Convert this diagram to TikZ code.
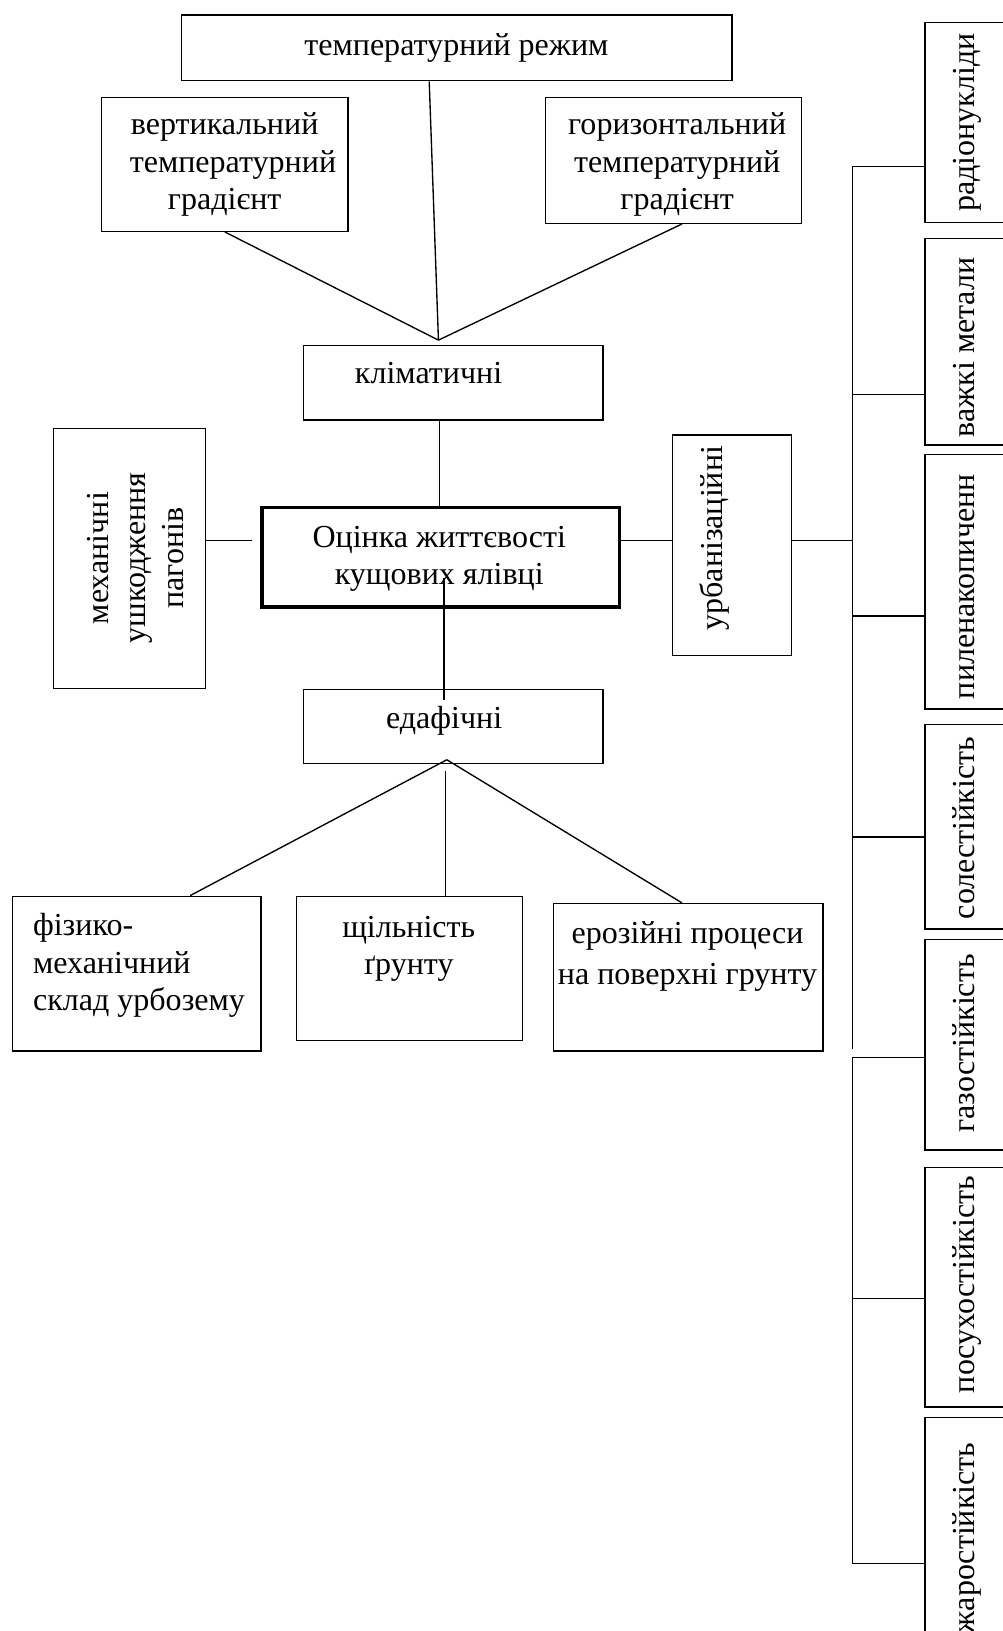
\documentclass[tikz,border=0pt]{standalone}
\usepackage{fontspec}
\setmainfont{Liberation Serif}
\usetikzlibrary{calc}
\newcommand\dfs{\fontsize{30.8}{36}\selectfont}
\begin{document}
\begin{tikzpicture}[x=1pt,y=-1pt,
  box/.style={draw=black,line width=1.3pt,rectangle,inner sep=0pt,anchor=north west},
  txt/.style={font=\dfs,inner sep=0pt,anchor=base,align=center},
  rtxt/.style={txt,rotate=90},
  conn/.style={draw=black,line width=1.3pt},
]
\useasboundingbox (0,0) rectangle (964,1568);
% boxes
\node[box,minimum width=529pt,minimum height=63.2pt] (top) at (174,13.8) {};
\node[box,minimum width=237pt,minimum height=128.7pt] (vert) at (97,93) {};
\node[box,minimum width=246pt,minimum height=121pt] (hor) at (524,93) {};
\node[box,minimum width=288pt,minimum height=71.4pt] (klim) at (291,331.6) {};
\node[box,line width=3.2pt,minimum width=343.7pt,minimum height=96.1pt] (cen) at (250.4,486) {};
\node[box,minimum width=146pt,minimum height=250.5pt] (mech) at (51,411) {};
\node[box,minimum width=114.2pt,minimum height=212.1pt] (urb) at (645.8,417.4) {};
\node[box,minimum width=288pt,minimum height=70.9pt] (edaf) at (291,662.5) {};
\node[box,minimum width=238.8pt,minimum height=148.8pt] (phys) at (11.6,861) {};
\node[box,minimum width=217.1pt,minimum height=138.5pt] (dens) at (284.7,861) {};
\node[box,minimum width=259.3pt,minimum height=141.8pt] (eros) at (531.4,868) {};
\node[box,minimum width=200pt,minimum height=192.2pt] (rad) at (888.5,20.8) {};
\node[box,minimum width=200pt,minimum height=198.5pt] (heavy) at (888.5,228.7) {};
\node[box,minimum width=200pt,minimum height=244.7pt] (dust) at (888.5,436.3) {};
\node[box,minimum width=200pt,minimum height=196.6pt] (salt) at (888.5,696) {};
\node[box,minimum width=200pt,minimum height=202.7pt] (gas) at (888.5,902.3) {};
\node[box,minimum width=200pt,minimum height=230.2pt] (drought) at (888.5,1121.8) {};
\node[box,minimum width=200pt,minimum height=300pt] (heat) at (888.5,1362.2) {};
% texts (multi-line nodes are placed at the baseline of their last line)
\node[txt] (ttop) at (438.8,52.9) {температурний режим};
\node[txt] (tvert) at (216,201.5) {вертикальний\\\hspace*{16pt}температурний\\градієнт};
\node[txt] (thor) at (651,201.5) {горизонтальний\\температурний\\градієнт};
\node[txt] (tklim) at (412,369) {кліматичні};
\node[txt] (tcen) at (422.3,562) {Оцінка життєвості\\кущових ялівці};
\node[txt] (tedaf) at (427,700) {едафічні};
\node[txt,anchor=base west,align=left] (tphys) at (31.6,971.5) {фізико-\\механічний\\склад урбозему};
\node[txt] (tdens) at (393,937) {щільність\\ґрунту};
\node[txt] (teros) at (661,946.7) {ерозійні процеси\\[4pt]на поверхні грунту};
\node[rtxt] (tmech) at (176,536.5) {механічні\\ушкодження\\пагонів};
\node[rtxt] (turb) at (695,517.4) {урбанізаційні};
\node[rtxt] (trad) at (937,117.8) {радіонукліди};
\node[rtxt] (theavy) at (937,334) {важкі метали};
\node[rtxt] (tdust) at (937,564) {пиленакопиченн};
\node[rtxt] (tsalt) at (937,796) {солестійкість};
\node[rtxt] (tgas) at (937,1003) {газостійкість};
\node[rtxt] (tdrought) at (937,1235) {посухостійкість};
\node[rtxt] (theat) at (937,1478.5) {жаростійкість};
% coordinates
\coordinate (kap) at (421.5,327);
\coordinate (e1) at (427,555.8);
\coordinate (e2) at (427,672.7);
\coordinate (mg) at (242.5,519.6);
\coordinate (bu) at (819.7,519.6);
\coordinate (b1) at (819.7,159.8);
\coordinate (b2) at (819.7,1008.2);
\coordinate (b3) at (819.7,1015.9);
\coordinate (b4) at (819.7,1503.3);
\coordinate (ea) at (429.6,730.4);
\coordinate (ev) at (428,741.6);
% connectors
\draw[conn] (vert.south) -- (kap);
\draw[conn] ($(top.south west)!0.45!(top.south east)$) -- (kap);
\draw[conn] ($(hor.south west)!0.5325!(hor.south east)$) -- (kap);
\draw[conn] ($(klim.south west)!0.4538!(klim.south east)$) coordinate (k1) -- (k1 |- cen.north);
\draw[conn] (e1) -- (e2);
\draw[conn] (mech.east |- mg) -- (mg);
\draw[conn] (cen.east |- mg) -- (urb.west |- mg);
\draw[conn] (urb.east |- bu) -- (bu);
\draw[conn] (b1) -- (b2);
\draw[conn] (b3) -- (b4);
\draw[conn] (b1) -- (rad.west |- b1);
\draw[conn] (b1 |- 0,379.5) -- (heavy.west |- 0,379.5);
\draw[conn] (b1 |- 0,592.1) -- (dust.west |- 0,592.1);
\draw[conn] (b1 |- 0,804.5) -- (salt.west |- 0,804.5);
\draw[conn] (b1 |- 0,1016.9) -- (gas.west |- 0,1016.9);
\draw[conn] (b1 |- 0,1248.6) -- (drought.west |- 0,1248.6);
\draw[conn] (b4) -- (heat.west |- b4);
\draw[conn] (ea) -- ($(phys.north west)!0.713!(phys.north east)$);
\draw[conn] (ea) -- ($(eros.north west)!0.4767!(eros.north east)$);
\draw[conn] (ev) -- (ev |- dens.north);
\end{tikzpicture}
\end{document}
